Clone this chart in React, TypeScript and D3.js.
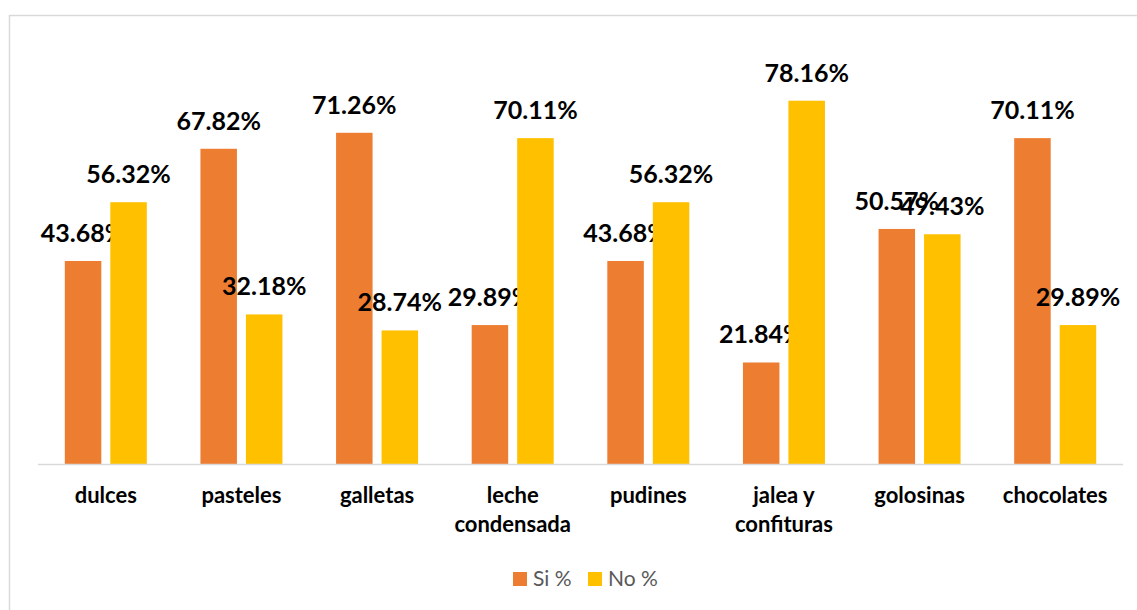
import React from "react";
import * as d3 from "d3";

const categories = ["dulces", "pasteles", "galletas", "leche condensada", "pudines", "jalea y confituras", "golosinas", "chocolates"];
const categoryLines = [["dulces"], ["pasteles"], ["galletas"], ["leche", "condensada"], ["pudines"], ["jalea y", "confituras"], ["golosinas"], ["chocolates"]];
const siValues = [43.68, 67.82, 71.26, 29.89, 43.68, 21.84, 50.57, 70.11];
const noValues = [56.32, 32.18, 28.74, 70.11, 56.32, 78.16, 49.43, 29.89];
const seriesNames = ["Si %", "No %"];
const colors = ["#ED7D31", "#FFC000"];

export default function App() {
  const W = 1137, H = 610;
  const x0 = d3.scaleBand<string>().domain(categories).range([38, 1123]).paddingInner(0).paddingOuter(0);
  const barW = 36.5, gap = 9;
  const y = d3.scaleLinear().domain([0, 90]).range([464, 464 - 90 * 4.648]);
  const font = "Lato, 'Open Sans', sans-serif";
  const series = [siValues, noValues];
  return (
    <svg width={W} height={H} style={{ position: "absolute", left: 0, top: 0 }}>
      <rect x={0} y={0} width={W} height={H} fill="#fff" />
      <rect x={9.5} y={15.5} width={W + 20} height={H + 20} fill="none" stroke="#D9D9D9" strokeWidth={1.5} />
      {categories.map((c, i) => {
        const cx = (x0(c) as number) + x0.bandwidth() / 2;
        return series.map((vals, s) => {
          const bx = s === 0 ? cx - gap / 2 - barW : cx + gap / 2;
          const v = vals[i];
          return (
            <g key={c + s}>
              <rect x={bx} y={y(v)} width={barW} height={y(0) - y(v)} fill={colors[s]} />
              <text x={bx + barW / 2} y={y(v) - 19} textAnchor="middle" fontFamily={font} fontWeight="bold" fontSize={25} fill="#000">
                {v.toFixed(2)}%
              </text>
            </g>
          );
        });
      })}
      <line x1={38} x2={1123} y1={464.5} y2={464.5} stroke="#D9D9D9" strokeWidth={1.5} />
      {categories.map((c, i) => {
        const cx = (x0(c) as number) + x0.bandwidth() / 2;
        return (
          <text key={c} textAnchor="middle" fontFamily={font} fontWeight="bold" fontSize={22} fill="#000">
            {categoryLines[i].map((l, j) => (
              <tspan key={j} x={cx} y={503 + j * 29}>{l}</tspan>
            ))}
          </text>
        );
      })}
      {seriesNames.map((n, s) => {
        const lx = s === 0 ? 513 : 588;
        return (
          <g key={n}>
            <rect x={lx} y={572} width={14} height={14} fill={colors[s]} />
            <text x={lx + 20} y={586} fontFamily={font} fontSize={21} fill="#595959">{n}</text>
          </g>
        );
      })}
    </svg>
  );
}
